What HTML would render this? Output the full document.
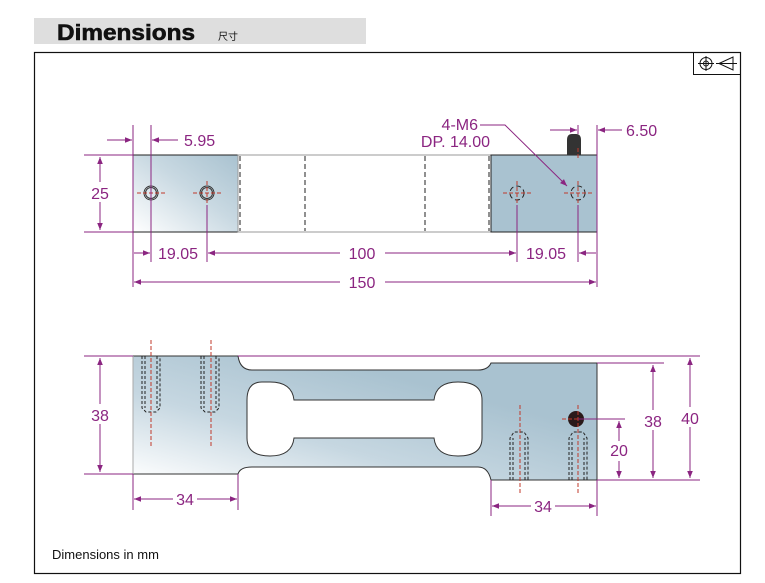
<!DOCTYPE html>
<html><head><meta charset="utf-8"><style>
body{margin:0;background:#fff;width:765px;height:583px;overflow:hidden}
svg{display:block}
</style></head><body>
<svg width="765" height="583" viewBox="0 0 765 583" xmlns="http://www.w3.org/2000/svg" font-family="Liberation Sans, Arial, sans-serif">
<defs>
<linearGradient id="g" x1="0" y1="1" x2="1" y2="0"><stop offset="0" stop-color="#ffffff"/><stop offset="0.55" stop-color="#c9d9e2"/><stop offset="1" stop-color="#a9c2d0"/></linearGradient>
<linearGradient id="g2" x1="0" y1="1" x2="1" y2="0"><stop offset="0" stop-color="#ffffff"/><stop offset="0.35" stop-color="#c6d7e1"/><stop offset="0.7" stop-color="#a9c2d0"/></linearGradient>
<marker id="a" viewBox="0 0 10 10" refX="10" refY="5" markerWidth="11" markerHeight="7" orient="auto-start-reverse" markerUnits="userSpaceOnUse"><path d="M0,1 L10,5 L0,9 Z" fill="#8b2581"/></marker>
</defs>
<!-- header -->
<rect x="34" y="18" width="332" height="26" fill="#dedede"/>
<text x="57" y="40" font-size="22" font-weight="bold" fill="#111" textLength="138" lengthAdjust="spacingAndGlyphs" stroke="#111" stroke-width="0.6">Dimensions</text>
<text x="218" y="40" font-size="10" fill="#111" font-family="Liberation Sans, Noto Sans CJK SC, sans-serif">尺寸</text>
<rect x="34.5" y="52.5" width="706" height="521" fill="none" stroke="#111" stroke-width="1.2"/>
<!-- symbol -->
<rect x="693.5" y="52.5" width="47" height="22" fill="none" stroke="#111"/>
<circle cx="706" cy="63.5" r="6" fill="none" stroke="#111"/><circle cx="706" cy="63.5" r="2.5" fill="none" stroke="#111"/>
<path d="M698,63.5 H714 M706,56 V71" stroke="#111"/>
<path d="M719,63.5 L733,57 V70 Z M716,63.5 H737" fill="none" stroke="#111"/>

<!-- TOP VIEW -->
<rect x="133" y="155" width="105" height="77" fill="url(#g)" stroke="#222"/>
<rect x="238" y="155" width="253" height="77" fill="#fff" stroke="#999"/>
<rect x="491" y="155" width="106" height="77" fill="#a9c2d0" stroke="#222"/>
<path d="M567,155 V140 Q567,134 572,134 H576 Q581,134 581,140 V155 Z" fill="#333"/>
<g stroke="#222" stroke-dasharray="5,3" fill="none">
<path d="M240,156V231 M305,156V231 M425,156V231 M489,156V231"/>
<circle cx="517" cy="193" r="7"/><circle cx="578" cy="193" r="7"/>
</g>
<g fill="none" stroke="#333"><circle cx="151" cy="193" r="7"/><circle cx="151" cy="193" r="5.5"/><circle cx="207" cy="193" r="7"/><circle cx="207" cy="193" r="5.5"/></g>
<g stroke="#c0392b" stroke-dasharray="4,2" fill="none">
<path d="M137,193H166 M151,181V205 M193,193H222 M207,181V205 M503,193H532 M517,181V205 M564,193H593 M578,181V205 M578,148V160"/>
</g>
<!-- top dims -->
<g stroke="#8b2581" fill="none" stroke-width="1">
<path d="M84,155H133 M84,232H133"/>
<path d="M100,157V230" marker-start="url(#a)" marker-end="url(#a)"/>
<path d="M133,125V262 M151,125V262 M207,205V262 M517,205V262 M578,205V262 M597,125V287 M578,125V134 M133,262V287"/>
<path d="M107,140H132" marker-end="url(#a)"/>
<path d="M178,140H152" marker-end="url(#a)"/>
<path d="M550,130H577" marker-end="url(#a)"/>
<path d="M622,130H598" marker-end="url(#a)"/>
<path d="M134,253H150" marker-end="url(#a)"/>
<path d="M340,253H208" marker-end="url(#a)"/>
<path d="M385,253H516" marker-end="url(#a)"/>
<path d="M596,253H579" marker-end="url(#a)"/>
<path d="M340,282H134" marker-end="url(#a)"/>
<path d="M385,282H596" marker-end="url(#a)"/>
<path d="M480,125H505 L567,186" marker-end="url(#a)"/>
</g>
<g fill="#8b2581" font-size="16">
<rect x="88" y="182" width="24" height="20" fill="#fff"/>
<text x="100" y="199" text-anchor="middle">25</text>
<text x="184" y="146">5.95</text>
<text x="626" y="136">6.50</text>
<text x="478" y="130" text-anchor="end">4-M6</text>
<text x="490" y="147" text-anchor="end">DP. 14.00</text>
<text x="158" y="259">19.05</text>
<text x="362" y="259" text-anchor="middle">100</text>
<text x="526" y="259">19.05</text>
<text x="362" y="288" text-anchor="middle">150</text>
</g>

<!-- SIDE VIEW -->
<path d="M133,356 H238 Q240,370 252,370 H478 Q488,370 491,363 H597 V480 H491 Q488,467 478,467 H252 Q240,467 238,474 H133 Z" fill="url(#g2)" stroke="#333"/>
<path d="M133,356V474" stroke="#aaa"/>
<path d="M262,382 Q247,382 247,400 V438 Q247,456 270,456 Q292,456 294,438 H434 Q436,456 458,456 Q482,456 482,438 V400 Q482,382 458,382 Q436,382 434,400 H294 Q292,382 270,382 Z" fill="#fff" stroke="#333"/>
<g stroke="#222" stroke-dasharray="3,2" fill="none">
<path d="M142,356V408 L146,412 H156 L160,408 V356 M145,356V408 M157,356V408"/>
<path d="M201,356V408 L205,412 H215 L219,408 V356 M204,356V408 M216,356V408"/>
<path d="M510,480V438 L514,432 H524 L528,438 V480 M513,480V438 M525,480V438"/>
<path d="M569,480V438 L573,432 H583 L587,438 V480 M572,480V438 M584,480V438"/>
</g>
<circle cx="576" cy="419" r="8" fill="#2a1a1a"/>
<g stroke="#c0392b" stroke-dasharray="4,2" fill="none">
<path d="M151,340V448 M211,340V448 M520,405V495 M578,405V495 M562,419H590"/>
</g>
<!-- side dims -->
<g stroke="#8b2581" fill="none">
<path d="M84,356H133 M84,474H133 M238,356H700 M597,363H664 M578,419H625 M597,480H700 M133,474V510 M238,474V510 M491,480V516 M597,480V516"/>
<path d="M100,358V472" marker-start="url(#a)" marker-end="url(#a)"/>
<path d="M653,365V478" marker-start="url(#a)" marker-end="url(#a)"/>
<path d="M690,358V478" marker-start="url(#a)" marker-end="url(#a)"/>
<path d="M619,421V478" marker-start="url(#a)" marker-end="url(#a)"/>
<path d="M134,499H237" marker-start="url(#a)" marker-end="url(#a)"/>
<path d="M492,506H596" marker-start="url(#a)" marker-end="url(#a)"/>
</g>
<g fill="#8b2581" font-size="16" text-anchor="middle">
<rect x="88" y="404" width="24" height="20" fill="#fff"/><text x="100" y="421">38</text>
<rect x="641" y="410" width="24" height="20" fill="#fff"/><text x="653" y="427">38</text>
<rect x="678" y="407" width="24" height="20" fill="#fff"/><text x="690" y="424">40</text>
<rect x="607" y="441" width="24" height="20" fill="#fff"/><text x="619" y="456">20</text>
<rect x="173" y="490" width="24" height="18" fill="#fff"/><text x="185" y="505">34</text>
<rect x="531" y="497" width="24" height="18" fill="#fff"/><text x="543" y="512">34</text>
</g>
<text x="52" y="559" font-size="13" fill="#111">Dimensions in mm</text>
</svg>
</body></html>
